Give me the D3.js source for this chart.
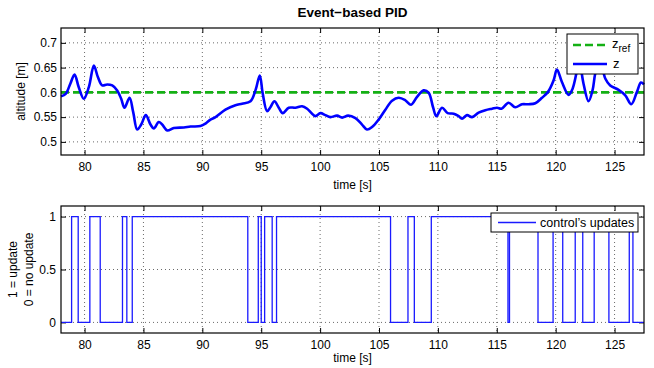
<!DOCTYPE html>
<html>
<head>
<meta charset="utf-8">
<script src="https://cdn.jsdelivr.net/npm/d3@7"></script>
<style>
  body { margin: 0; background: #fff; }
  svg { font-family: "Liberation Sans", Arial, sans-serif; }
  .axis text { font-size: 12px; fill: #000; }
  .axis path, .axis line { stroke: #000; }
  .grid line { stroke: #444; stroke-dasharray: 1,3; stroke-width: 0.8; }
</style>
</head>
<body>
<div id="chart"></div>
<script>
// altitude samples
const zTime = [78.0, 78.4, 78.8, 79.15, 79.5, 79.94, 80.37, 80.79, 81.13, 81.5, 81.92, 82.35, 82.77,
  83.11, 83.39, 83.82, 84.13, 84.47, 84.81, 85.2, 85.6, 85.88, 86.3, 86.59, 87.02, 87.58, 88.43,
  89.0, 89.84, 90.27, 90.69, 91.12, 91.96, 92.81, 93.38, 94.09, 94.51, 94.88, 95.13, 95.5, 95.78,
  96.12, 96.49, 96.83, 97.34, 97.9, 98.47, 98.9, 99.32, 99.6, 100.03, 100.45, 100.87, 101.44,
  101.87, 102.38, 103.0, 103.56, 103.98, 104.41, 104.97, 105.54, 106.11, 106.67, 107.24, 107.72,
  108.23, 108.79, 109.22, 109.59, 109.87, 110.35, 110.83, 111.34, 111.76, 112.05, 112.47, 112.9,
  113.46, 114.03, 114.6, 115.02, 115.4, 116.0, 116.57, 117.14, 117.7, 118.27, 118.84, 119.35,
  119.82, 120.11, 120.53, 121.1, 121.43, 121.81, 122.0, 122.37, 122.79, 123.13, 123.36, 123.75,
  124.21, 124.63, 125.34, 125.91, 126.42, 126.9, 127.24, 127.5];
const zValue = [0.592, 0.597, 0.618, 0.636, 0.611, 0.587, 0.611, 0.654, 0.631, 0.614, 0.616, 0.614, 0.604,
  0.587, 0.569, 0.589, 0.560, 0.525, 0.535, 0.554, 0.535, 0.527, 0.540, 0.535, 0.523, 0.528, 0.529,
  0.531, 0.532, 0.537, 0.545, 0.550, 0.565, 0.574, 0.577, 0.582, 0.604, 0.634, 0.597, 0.562, 0.570,
  0.582, 0.569, 0.558, 0.569, 0.569, 0.572, 0.567, 0.557, 0.552, 0.558, 0.554, 0.550, 0.553,
  0.549, 0.553, 0.548, 0.535, 0.525, 0.530, 0.545, 0.565, 0.583, 0.589, 0.584, 0.575,
  0.591, 0.604, 0.599, 0.570, 0.552, 0.569, 0.558, 0.557, 0.552, 0.547, 0.554, 0.550,
  0.559, 0.564, 0.567, 0.569, 0.567, 0.579, 0.570, 0.576, 0.576, 0.578, 0.589, 0.601,
  0.624, 0.646, 0.621, 0.595, 0.607, 0.644, 0.662, 0.617, 0.582, 0.604, 0.638, 0.668,
  0.628, 0.614, 0.605, 0.594, 0.576, 0.601, 0.620, 0.616];
const zRef = 0.6;

// control update switching (stairs)
const updTime = [78, 78.9, 79.46, 80.45, 81.33, 83.22, 83.59, 84.05, 93.86, 94.75, 95.0, 95.29, 95.93,
  96.3, 105.98, 107.46, 108.0, 109.44, 115.95, 116.08, 118.5, 119.78, 120.6, 121.66, 122.3, 123.27,
  124.52, 126.25, 126.56, 127.5];
const updValue = [0, 1, 0, 1, 0, 1, 0, 1, 0, 1, 0, 1, 0, 1, 0, 1, 0, 1, 0, 1, 0, 1, 0, 1, 0, 1, 0, 1, 0, 0];

const xTicks = [80, 85, 90, 95, 100, 105, 110, 115, 120, 125];
const zTicks = [0.5, 0.55, 0.6, 0.65, 0.7];
const updTicks = [0, 0.5, 1];

const W = 654, H = 368;
const left = 61, plotW = 583, plotH = 127;
const top1 = 28, top2 = 206;

const svg = d3.select('#chart').append('svg')
  .attr('width', W).attr('height', H);

const x = d3.scaleLinear().domain([78, 127.5]).range([0, plotW]);
const y1 = d3.scaleLinear().domain([0.4735, 0.73]).range([plotH, 0]);
const y2 = d3.scaleLinear().domain([-0.1, 1.1]).range([plotH, 0]);

function drawFrame(g, yScale, yTicks, yFmt, yPad) {
  // dotted grid
  const grid = g.append('g').attr('class', 'grid');
  grid.selectAll('.gx').data(xTicks).enter().append('line')
    .attr('x1', d => x(d)).attr('x2', d => x(d)).attr('y1', 0).attr('y2', plotH);
  grid.selectAll('.gy').data(yTicks).enter().append('line')
    .attr('x1', 0).attr('x2', plotW).attr('y1', d => yScale(d)).attr('y2', d => yScale(d));

  g.append('g').attr('class', 'axis')
    .attr('transform', `translate(0,${plotH})`)
    .call(d3.axisBottom(x).tickValues(xTicks).tickSizeInner(-5).tickSizeOuter(0).tickPadding(7));
  g.append('g').attr('class', 'axis')
    .call(d3.axisTop(x).tickValues(xTicks).tickSizeInner(-5).tickSizeOuter(0).tickFormat(''));
  g.append('g').attr('class', 'axis')
    .call(d3.axisLeft(yScale).tickValues(yTicks).tickSizeInner(-5).tickSizeOuter(0).tickPadding(yPad).tickFormat(yFmt));
  g.append('g').attr('class', 'axis')
    .attr('transform', `translate(${plotW},0)`)
    .call(d3.axisRight(yScale).tickValues(yTicks).tickSizeInner(-5).tickSizeOuter(0).tickFormat(''));
  g.selectAll('.axis path.domain').remove();
}

function drawBox(g) {
  g.append('rect').attr('x', 0).attr('y', 0).attr('width', plotW).attr('height', plotH)
    .attr('fill', 'none').attr('stroke', '#000').attr('stroke-width', 1.2);
}

// ---- top: altitude
const g1 = svg.append('g').attr('transform', `translate(${left},${top1})`);
drawFrame(g1, y1, zTicks, d3.format('~g'), 4);

g1.append('line')
  .attr('x1', x(78)).attr('x2', x(127.5))
  .attr('y1', y1(zRef)).attr('y2', y1(zRef))
  .attr('stroke', '#14b014').attr('stroke-width', 2.6).attr('stroke-dasharray', '8,4');

const zLine = d3.line()
  .x((d, i) => x(zTime[i]))
  .y(d => y1(d))
  .curve(d3.curveCatmullRom.alpha(0.5));

g1.append('path').datum(zValue)
  .attr('d', zLine)
  .attr('fill', 'none').attr('stroke', '#0000ff').attr('stroke-width', 2.6)
  .attr('stroke-linejoin', 'round');
drawBox(g1);

// legend top
const lg1 = g1.append('g').attr('transform', `translate(${567 - left},${34 - top1})`);
lg1.append('rect').attr('width', 71).attr('height', 40)
  .attr('fill', '#fff').attr('stroke', '#000').attr('stroke-width', 1);
lg1.append('line').attr('x1', 6).attr('x2', 40).attr('y1', 11).attr('y2', 11)
  .attr('stroke', '#14b014').attr('stroke-width', 2.6).attr('stroke-dasharray', '8,4');
const zr = lg1.append('text').attr('x', 45).attr('y', 14).style('font-size', '13px');
zr.append('tspan').text('z');
zr.append('tspan').attr('dy', 4).style('font-size', '10px').text('ref');
lg1.append('line').attr('x1', 6).attr('x2', 40).attr('y1', 30).attr('y2', 30)
  .attr('stroke', '#0000ff').attr('stroke-width', 2.6);
lg1.append('text').attr('x', 46).attr('y', 34).style('font-size', '13px').text('z');

// ---- bottom: updates
const g2 = svg.append('g').attr('transform', `translate(${left},${top2})`);
drawFrame(g2, y2, updTicks, d3.format('~g'), 5);

const uLine = d3.line()
  .x((d, i) => x(updTime[i]))
  .y(d => y2(d))
  .curve(d3.curveStepAfter);

g2.append('path').datum(updValue)
  .attr('d', uLine)
  .attr('fill', 'none').attr('stroke', '#1a1aff').attr('stroke-width', 1.3);
drawBox(g2);

const lg2 = g2.append('g').attr('transform', `translate(${491 - left},${213 - top2})`);
lg2.append('rect').attr('width', 147).attr('height', 19)
  .attr('fill', '#fff').attr('stroke', '#000').attr('stroke-width', 1);
lg2.append('line').attr('x1', 7).attr('x2', 45).attr('y1', 9.5).attr('y2', 9.5)
  .attr('stroke', '#1a1aff').attr('stroke-width', 1.3);
lg2.append('text').attr('x', 49).attr('y', 14).style('font-size', '12.5px').text("control\u2019s updates");

// ---- labels
svg.append('text').attr('x', left + plotW / 2).attr('y', 17)
  .attr('text-anchor', 'middle').style('font-size', '13.5px').style('font-weight', 'bold')
  .text('Event\u2212based PID');

svg.append('text').attr('x', left + plotW / 2).attr('y', 189)
  .attr('text-anchor', 'middle').style('font-size', '12px').text('time [s]');
svg.append('text').attr('x', left + plotW / 2).attr('y', 362)
  .attr('text-anchor', 'middle').style('font-size', '12px').text('time [s]');

svg.append('text').attr('transform', `translate(25,${top1 + plotH / 2}) rotate(-90)`)
  .attr('text-anchor', 'middle').style('font-size', '12px').text('altitude [m]');
svg.append('text').attr('transform', `translate(17,${top2 + plotH / 2}) rotate(-90)`)
  .attr('text-anchor', 'middle').style('font-size', '12px').text('1 = update');
svg.append('text').attr('transform', `translate(33,${top2 + plotH / 2}) rotate(-90)`)
  .attr('text-anchor', 'middle').style('font-size', '12px').text('0 = no update');
</script>
</body>
</html>
